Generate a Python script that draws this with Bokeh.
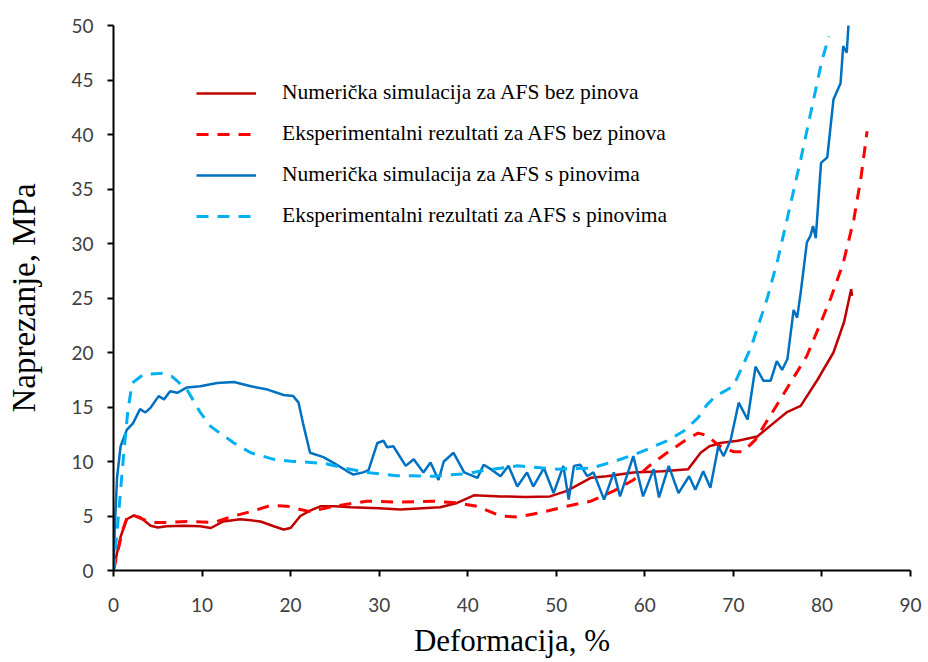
from bokeh.plotting import figure
from bokeh.models import Legend, LegendItem, FixedTicker
from bokeh.embed import file_html
from bokeh.resources import INLINE

# Numerička simulacija za AFS bez pinova
x_num_bez = [0, 0.4, 0.8, 1.5, 2.3, 3.0, 3.6, 4.2, 5.0, 6.0, 8.0, 9.8, 11.0, 12.4, 14.3, 15.5, 16.6,
             18.1, 19.2, 20.0, 21.1, 22.2, 23.4, 25.0, 26.8, 30.0, 32.4, 36.9, 38.8, 40.7, 43.7, 46.5,
             49.3, 51.2, 53.9, 55.7, 58.7, 62.0, 64.9, 66.3, 67.3, 68.5, 70.5, 72.7, 74.5, 76.0,
             77.6, 79.5, 81.3, 82.5, 83.3, 83.4]
y_num_bez = [0, 1.6, 3.1, 4.7, 5.05, 4.9, 4.5, 4.1, 3.95, 4.06, 4.1, 4.06, 3.9, 4.5, 4.7, 4.6, 4.5,
             4.06, 3.76, 3.9, 5.0, 5.5, 5.9, 5.9, 5.8, 5.7, 5.6, 5.8, 6.2, 6.9, 6.8, 6.75,
             6.8, 7.3, 8.5, 8.65, 9.0, 9.1, 9.3, 10.8, 11.4, 11.7, 11.9, 12.3, 13.5, 14.5,
             15.1, 17.5, 20.0, 22.8, 25.8, 25.2]

# Eksperimentalni rezultati za AFS bez pinova
x_exp_bez = [0, 0.5, 1.0, 1.5, 2.1, 3.0, 4.2, 6.0, 8.3, 11.3, 13.6, 15.5, 17.7, 19.6, 21.1, 22.2,
             24.9, 28.6, 32.4, 36.1, 38.8, 41.0, 43.7, 45.6, 48.2, 51.2, 53.9, 56.5, 58.7, 60.5,
             62.5, 64.5, 66.0, 67.0, 68.3, 70.0, 71.1, 72.5, 73.4, 75.3, 76.5, 78.3, 80.0, 81.0,
             82.4, 83.6, 84.4, 85.1]
y_exp_bez = [0, 1.8, 3.6, 4.8, 5.1, 4.8, 4.4, 4.4, 4.5, 4.4, 5.0, 5.4, 5.96, 5.9, 5.6, 5.4,
             5.9, 6.36, 6.27, 6.36, 6.2, 5.9, 5.0, 4.9, 5.3, 5.9, 6.36, 7.3, 8.3, 9.6,
             10.8, 11.9, 12.6, 12.4, 11.5, 10.9, 10.9, 12.0, 13.2, 15.7, 17.3, 19.7, 23.0, 25.0,
             28.2, 32.2, 36.0, 40.3]

# Numerička simulacija za AFS s pinovima
x_num_s = [0, 0.15, 0.4, 0.8, 1.5, 2.2, 3.0, 3.6, 4.2, 5.1, 5.7, 6.4, 7.2, 8.3, 9.8, 11.7, 13.6,
           15.5, 17.4, 19.2, 20.3, 20.9, 21.4, 22.2, 23.7, 25.0, 26.4, 27.1, 28.2, 28.8, 29.8,
           30.5, 30.9, 31.6, 33.0, 33.9, 35.0, 35.8, 36.7, 37.3, 38.4, 39.6, 41.1, 41.8, 42.6,
           43.7, 44.6, 45.6, 46.7, 47.4, 48.6, 49.7, 50.8, 51.4, 52.0, 52.7, 53.5, 54.2, 55.4,
           56.5, 57.2, 58.7, 59.8, 61.0, 61.6, 62.7, 63.8, 65.0, 65.7, 66.6, 67.4, 68.3, 68.9,
           69.7, 70.6, 71.6, 72.5, 73.4, 74.2, 74.9, 75.5, 76.1, 76.8, 77.2, 77.6, 78.3, 78.7,
           79.0, 79.3, 79.9, 80.6, 81.3, 82.1, 82.4, 82.8, 83.0]
y_num_s = [0, 4.0, 8.5, 11.4, 12.9, 13.5, 14.8, 14.5, 14.95, 16.0, 15.7, 16.45, 16.3, 16.8, 16.9,
           17.2, 17.3, 16.9, 16.6, 16.1, 16.0, 15.4, 13.5, 10.8, 10.4, 9.8, 9.1, 8.8, 9.0, 9.2, 11.7,
           11.9, 11.3, 11.4, 9.6, 10.2, 9.0, 9.9, 8.3, 10.0, 10.8, 9.0, 8.5, 9.7, 9.3,
           8.65, 9.6, 7.7, 9.0, 7.7, 9.4, 7.1, 9.6, 6.5, 9.6, 9.7, 8.65, 9.0, 6.5,
           9.0, 6.8, 10.5, 6.8, 9.3, 6.7, 9.6, 7.1, 8.65, 7.4, 9.1, 7.6, 11.4, 10.5,
           12.0, 15.4, 13.85, 18.7, 17.4, 17.4, 19.2, 18.4, 19.4, 23.9, 23.2, 25.5, 30.1, 30.7,
           31.6, 30.5, 37.4, 37.9, 43.2, 44.7, 48.1, 47.5, 50.1]

# Eksperimentalni rezultati za AFS s pinovima
x_exp_s = [0, 0.5, 1.1, 1.6, 2.1, 3.4, 5.6, 6.6, 8.3, 9.8, 11.0, 13.6, 15.5, 18.1, 20.3, 21.1,
           24.0, 26.0, 28.6, 32.0, 36.1, 40.0, 42.0, 45.6, 50.0, 54.0, 56.5, 58.7, 60.5, 62.5,
           64.4, 66.0, 67.0, 68.0, 70.0, 72.0, 73.8, 75.0, 76.0, 77.6, 79.0, 80.0, 80.8]
y_exp_s = [0, 4.5, 10.2, 14.5, 17.2, 18.0, 18.1, 17.8, 16.6, 14.5, 13.2, 11.7, 10.8, 10.2, 10.0, 10.0,
           9.8, 9.4, 9.0, 8.7, 8.65, 8.9, 9.2, 9.6, 9.3, 9.4, 10.0, 10.6, 11.2, 11.9,
           12.8, 14.0, 15.2, 16.0, 16.9, 20.5, 24.9, 28.5, 32.0, 37.7, 43.0, 46.8, 49.0]

legend_labels = ["Numerička simulacija za AFS bez pinova",
                 "Eksperimentalni rezultati za AFS bez pinova",
                 "Numerička simulacija za AFS s pinovima",
                 "Eksperimentalni rezultati za AFS s pinovima"]

x_ticks = [0, 10, 20, 30, 40, 50, 60, 70, 80, 90]
y_ticks = [0, 5, 10, 15, 20, 25, 30, 35, 40, 45, 50]

p = figure(width=925, height=661, x_range=(0, 90), y_range=(0, 50),
           output_backend="svg", toolbar_location=None,
           min_border_left=113, min_border_right=15, min_border_top=25, min_border_bottom=91)
p.outline_line_color = None
p.xgrid.visible = False
p.ygrid.visible = False
p.background_fill_color = "white"

r1 = p.line(x_num_bez, y_num_bez, line_color="#C00000", line_width=2.5)
r2 = p.line(x_exp_bez, y_exp_bez, line_color="#FF0000", line_width=3, line_dash="12 9")
r3 = p.line(x_num_s, y_num_s, line_color="#0070C0", line_width=2.5)
r4 = p.line(x_exp_s, y_exp_s, line_color="#00B0F0", line_width=3, line_dash="12 9")

for ax in (p.xaxis[0], p.yaxis[0]):
    ax.axis_line_color = "black"
    ax.axis_line_width = 2
    ax.major_tick_line_color = "black"
    ax.major_tick_line_width = 2
    ax.major_tick_out = 6
    ax.major_tick_in = 0
    ax.minor_tick_line_color = None
    ax.major_label_text_font = "Lato"
    ax.major_label_text_font_size = "19px"
    ax.major_label_text_color = "#404040"
    ax.axis_label_text_font = "Liberation Serif"
    ax.axis_label_text_font_style = "normal"
    ax.axis_label_text_color = "black"

p.xaxis[0].ticker = FixedTicker(ticks=x_ticks)
p.yaxis[0].ticker = FixedTicker(ticks=y_ticks)
p.xaxis[0].axis_label = "Deformacija, %"
p.yaxis[0].axis_label = "Naprezanje, MPa"
p.xaxis[0].axis_label_text_font_size = "31px"
p.yaxis[0].axis_label_text_font_size = "33px"
p.xaxis[0].major_label_standoff = 21
p.yaxis[0].major_label_standoff = 14
p.xaxis[0].axis_label_standoff = 8
p.yaxis[0].axis_label_standoff = 26

legend = Legend(items=[LegendItem(label=lab, renderers=[r]) for lab, r in
                       zip(legend_labels, [r1, r2, r3, r4])],
                location=(83, 342), orientation="vertical",
                label_text_font="Liberation Serif", label_text_font_size="21.5px",
                label_text_color="black",
                glyph_width=60, glyph_height=24, label_height=24, label_standoff=26,
                spacing=16, padding=0, margin=0,
                border_line_alpha=0, background_fill_alpha=0)
p.add_layout(legend)

open("out.html", "w").write(file_html(p, INLINE))
